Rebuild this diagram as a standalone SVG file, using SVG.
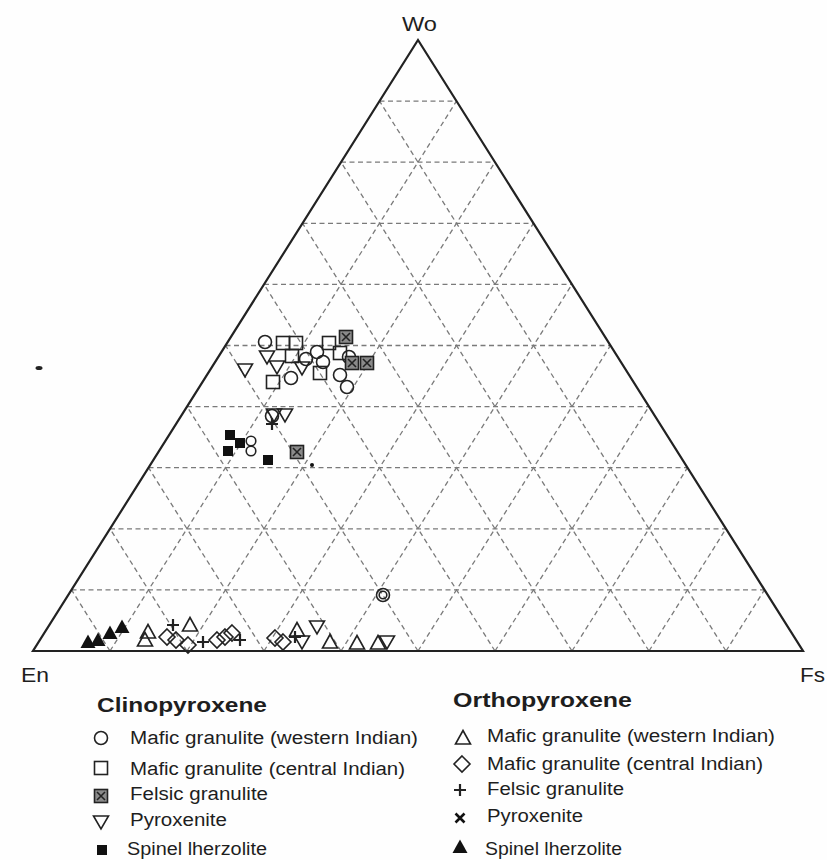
<svg xmlns="http://www.w3.org/2000/svg" xmlns:xlink="http://www.w3.org/1999/xlink" width="827" height="860" viewBox="0 0 827 860">
<style>
.lbl{font-family:"Liberation Sans",Arial,sans-serif;fill:#1e1e1e}
.ax{font-size:20px}
.hd{font-size:21px;font-weight:bold}
.it{font-size:18px}
.grid line{stroke:#7a7a7a;stroke-width:1.3;stroke-dasharray:5 3.5}
.sym{fill:none;stroke:#222;stroke-width:1.6}
</style>
<defs>
<g id="circ"><circle r="6.5" class="sym"/></g>
<g id="sq"><rect x="-6.5" y="-6.5" width="13" height="13" class="sym"/></g>
<g id="xbox"><rect x="-6.5" y="-6.5" width="13" height="13" fill="#8a8a8a" stroke="#222" stroke-width="1.6"/><path d="M-4,-4L4,4M4,-4L-4,4" stroke="#222" stroke-width="1.6"/></g>
<g id="dtri"><polygon points="-7.5,-6 7.5,-6 0,7" class="sym"/></g>
<g id="fsq"><rect x="-5" y="-5" width="10" height="10" fill="#111"/></g>
<g id="utri"><polygon points="0,-7.5 7.5,6 -7.5,6" class="sym"/></g>
<g id="dia"><polygon points="0,-8 8,0 0,8 -8,0" class="sym"/></g>
<g id="plus"><path d="M-6,0H6M0,-6V6" stroke="#222" stroke-width="2.2"/></g>
<g id="cross"><path d="M-4.5,-4.5L4.5,4.5M4.5,-4.5L-4.5,4.5" stroke="#111" stroke-width="2.6"/></g>
<g id="ftri"><polygon points="0,-7.5 7.5,6 -7.5,6" fill="#111"/></g>
</defs>
<rect width="827" height="860" fill="#fefefe"/>

<g id="grid" class="grid">
<line x1="71.5" y1="589.9" x2="764.5" y2="589.9"/>
<line x1="110" y1="528.8" x2="726" y2="528.8"/>
<line x1="148.5" y1="467.7" x2="687.5" y2="467.7"/>
<line x1="187" y1="406.6" x2="649" y2="406.6"/>
<line x1="225.5" y1="345.5" x2="610.5" y2="345.5"/>
<line x1="264" y1="284.4" x2="572" y2="284.4"/>
<line x1="302.5" y1="223.3" x2="533.5" y2="223.3"/>
<line x1="341" y1="162.2" x2="495" y2="162.2"/>
<line x1="379.5" y1="101.1" x2="456.5" y2="101.1"/>
<line x1="110" y1="651" x2="456.5" y2="101.1"/>
<line x1="187" y1="651" x2="495" y2="162.2"/>
<line x1="264" y1="651" x2="533.5" y2="223.3"/>
<line x1="341" y1="651" x2="572" y2="284.4"/>
<line x1="418" y1="651" x2="610.5" y2="345.5"/>
<line x1="495" y1="651" x2="649" y2="406.6"/>
<line x1="572" y1="651" x2="687.5" y2="467.7"/>
<line x1="649" y1="651" x2="726" y2="528.8"/>
<line x1="726" y1="651" x2="764.5" y2="589.9"/>
<line x1="110" y1="651" x2="71.5" y2="589.9"/>
<line x1="187" y1="651" x2="110" y2="528.8"/>
<line x1="264" y1="651" x2="148.5" y2="467.7"/>
<line x1="341" y1="651" x2="187" y2="406.6"/>
<line x1="418" y1="651" x2="225.5" y2="345.5"/>
<line x1="495" y1="651" x2="264" y2="284.4"/>
<line x1="572" y1="651" x2="302.5" y2="223.3"/>
<line x1="649" y1="651" x2="341" y2="162.2"/>
<line x1="726" y1="651" x2="379.5" y2="101.1"/>
</g>

<g id="frame"><polygon points="418,40 803,651 33,651" fill="none" stroke="#222" stroke-width="2.2" stroke-linejoin="miter"/></g>

<g id="axis-labels">
<text class="lbl ax" x="402" y="31" textLength="35" lengthAdjust="spacingAndGlyphs">Wo</text>
<text class="lbl ax" x="21" y="682" textLength="28" lengthAdjust="spacingAndGlyphs">En</text>
<text class="lbl ax" x="800" y="682" textLength="25" lengthAdjust="spacingAndGlyphs">Fs</text>
</g>

<g id="stray-mark"><ellipse cx="39" cy="368" rx="3.5" ry="2" fill="#222"/></g>

<g id="cpx-mafic-western">
<use href="#circ" x="265" y="342"/><use href="#circ" x="291" y="378"/><use href="#circ" x="317" y="352"/>
<use href="#circ" x="323" y="362"/><use href="#circ" x="306" y="359"/><use href="#circ" x="340" y="375"/>
<use href="#circ" x="347" y="387"/><use href="#circ" x="349" y="357"/><use href="#circ" x="272" y="416"/>
<circle cx="251" cy="441" r="4.8" class="sym"/><circle cx="251" cy="451" r="4.8" class="sym"/>
<circle cx="383" cy="595" r="6.5" class="sym"/><circle cx="383" cy="595" r="3.8" class="sym"/>
</g>
<g id="cpx-mafic-central">
<use href="#sq" x="283" y="343"/><use href="#sq" x="296" y="343"/><use href="#sq" x="329" y="343"/>
<use href="#sq" x="292" y="356"/><use href="#sq" x="340" y="353"/><use href="#sq" x="273" y="382"/>
<use href="#sq" x="320" y="373"/>
</g>
<g id="cpx-felsic">
<use href="#xbox" x="346" y="337"/><use href="#xbox" x="352" y="363"/><use href="#xbox" x="367" y="363"/>
<use href="#xbox" x="297" y="452"/>
</g>
<g id="cpx-pyroxenite">
<use href="#dtri" x="245" y="370"/><use href="#dtri" x="267" y="357"/><use href="#dtri" x="277" y="367"/>
<use href="#dtri" x="302" y="368"/><use href="#dtri" x="285" y="415"/><use href="#dtri" x="274" y="415"/>
<use href="#dtri" x="302" y="642"/><use href="#dtri" x="317" y="627"/><use href="#dtri" x="387" y="642"/>
</g>
<g id="cpx-spinel">
<use href="#fsq" x="230" y="435"/><use href="#fsq" x="240" y="443"/><use href="#fsq" x="228" y="451"/>
<use href="#fsq" x="268" y="460"/><circle cx="312" cy="465" r="2" fill="#111"/>
</g>
<g id="opx-mafic-western">
<use href="#utri" x="148" y="632"/><use href="#utri" x="145" y="640"/><use href="#utri" x="190" y="625"/>
<use href="#utri" x="297" y="630"/><use href="#utri" x="330" y="642"/><use href="#utri" x="357" y="643"/>
<use href="#utri" x="378" y="643"/>
</g>
<g id="opx-mafic-central">
<use href="#dia" x="167" y="637"/><use href="#dia" x="176" y="640"/><use href="#dia" x="188" y="645"/>
<use href="#dia" x="217" y="640"/><use href="#dia" x="225" y="637"/><use href="#dia" x="232" y="633"/>
<use href="#dia" x="275" y="638"/><use href="#dia" x="283" y="642"/>
</g>
<g id="opx-felsic">
<use href="#plus" x="173" y="625"/><use href="#plus" x="203" y="642"/><use href="#plus" x="240" y="640"/>
<use href="#plus" x="295" y="637"/><use href="#plus" x="272" y="424"/>
</g>
<g id="opx-spinel">
<use href="#ftri" x="88" y="642"/><use href="#ftri" x="98" y="640"/><use href="#ftri" x="110" y="633"/>
<use href="#ftri" x="122" y="627"/>
</g>

<g id="legend-cpx">
<text class="lbl hd" x="97" y="712" textLength="170" lengthAdjust="spacingAndGlyphs">Clinopyroxene</text>
<use href="#circ" x="101" y="738"/>
<text class="lbl it" x="130" y="744" textLength="288" lengthAdjust="spacingAndGlyphs">Mafic granulite (western Indian)</text>
<use href="#sq" x="101" y="768"/>
<text class="lbl it" x="130" y="775" textLength="275" lengthAdjust="spacingAndGlyphs">Mafic granulite (central Indian)</text>
<use href="#xbox" x="101" y="796"/>
<text class="lbl it" x="130" y="800" textLength="138" lengthAdjust="spacingAndGlyphs">Felsic granulite</text>
<use href="#dtri" x="101" y="822"/>
<text class="lbl it" x="130" y="826" textLength="97" lengthAdjust="spacingAndGlyphs">Pyroxenite</text>
<use href="#fsq" x="102" y="850"/>
<text class="lbl it" x="127" y="855" textLength="140" lengthAdjust="spacingAndGlyphs">Spinel lherzolite</text>
</g>
<g id="legend-opx">
<text class="lbl hd" x="453" y="707" textLength="179" lengthAdjust="spacingAndGlyphs">Orthopyroxene</text>
<use href="#utri" x="463" y="738"/>
<text class="lbl it" x="487" y="742" textLength="288" lengthAdjust="spacingAndGlyphs">Mafic granulite (western Indian)</text>
<use href="#dia" x="462" y="764"/>
<text class="lbl it" x="487" y="770" textLength="276" lengthAdjust="spacingAndGlyphs">Mafic granulite (central Indian)</text>
<use href="#plus" x="460" y="790"/>
<text class="lbl it" x="487" y="795" textLength="137" lengthAdjust="spacingAndGlyphs">Felsic granulite</text>
<use href="#cross" x="460" y="818"/>
<text class="lbl it" x="487" y="822" textLength="96" lengthAdjust="spacingAndGlyphs">Pyroxenite</text>
<use href="#ftri" x="460" y="847"/>
<text class="lbl it" x="485" y="855" textLength="137" lengthAdjust="spacingAndGlyphs">Spinel lherzolite</text>
</g>
</svg>
